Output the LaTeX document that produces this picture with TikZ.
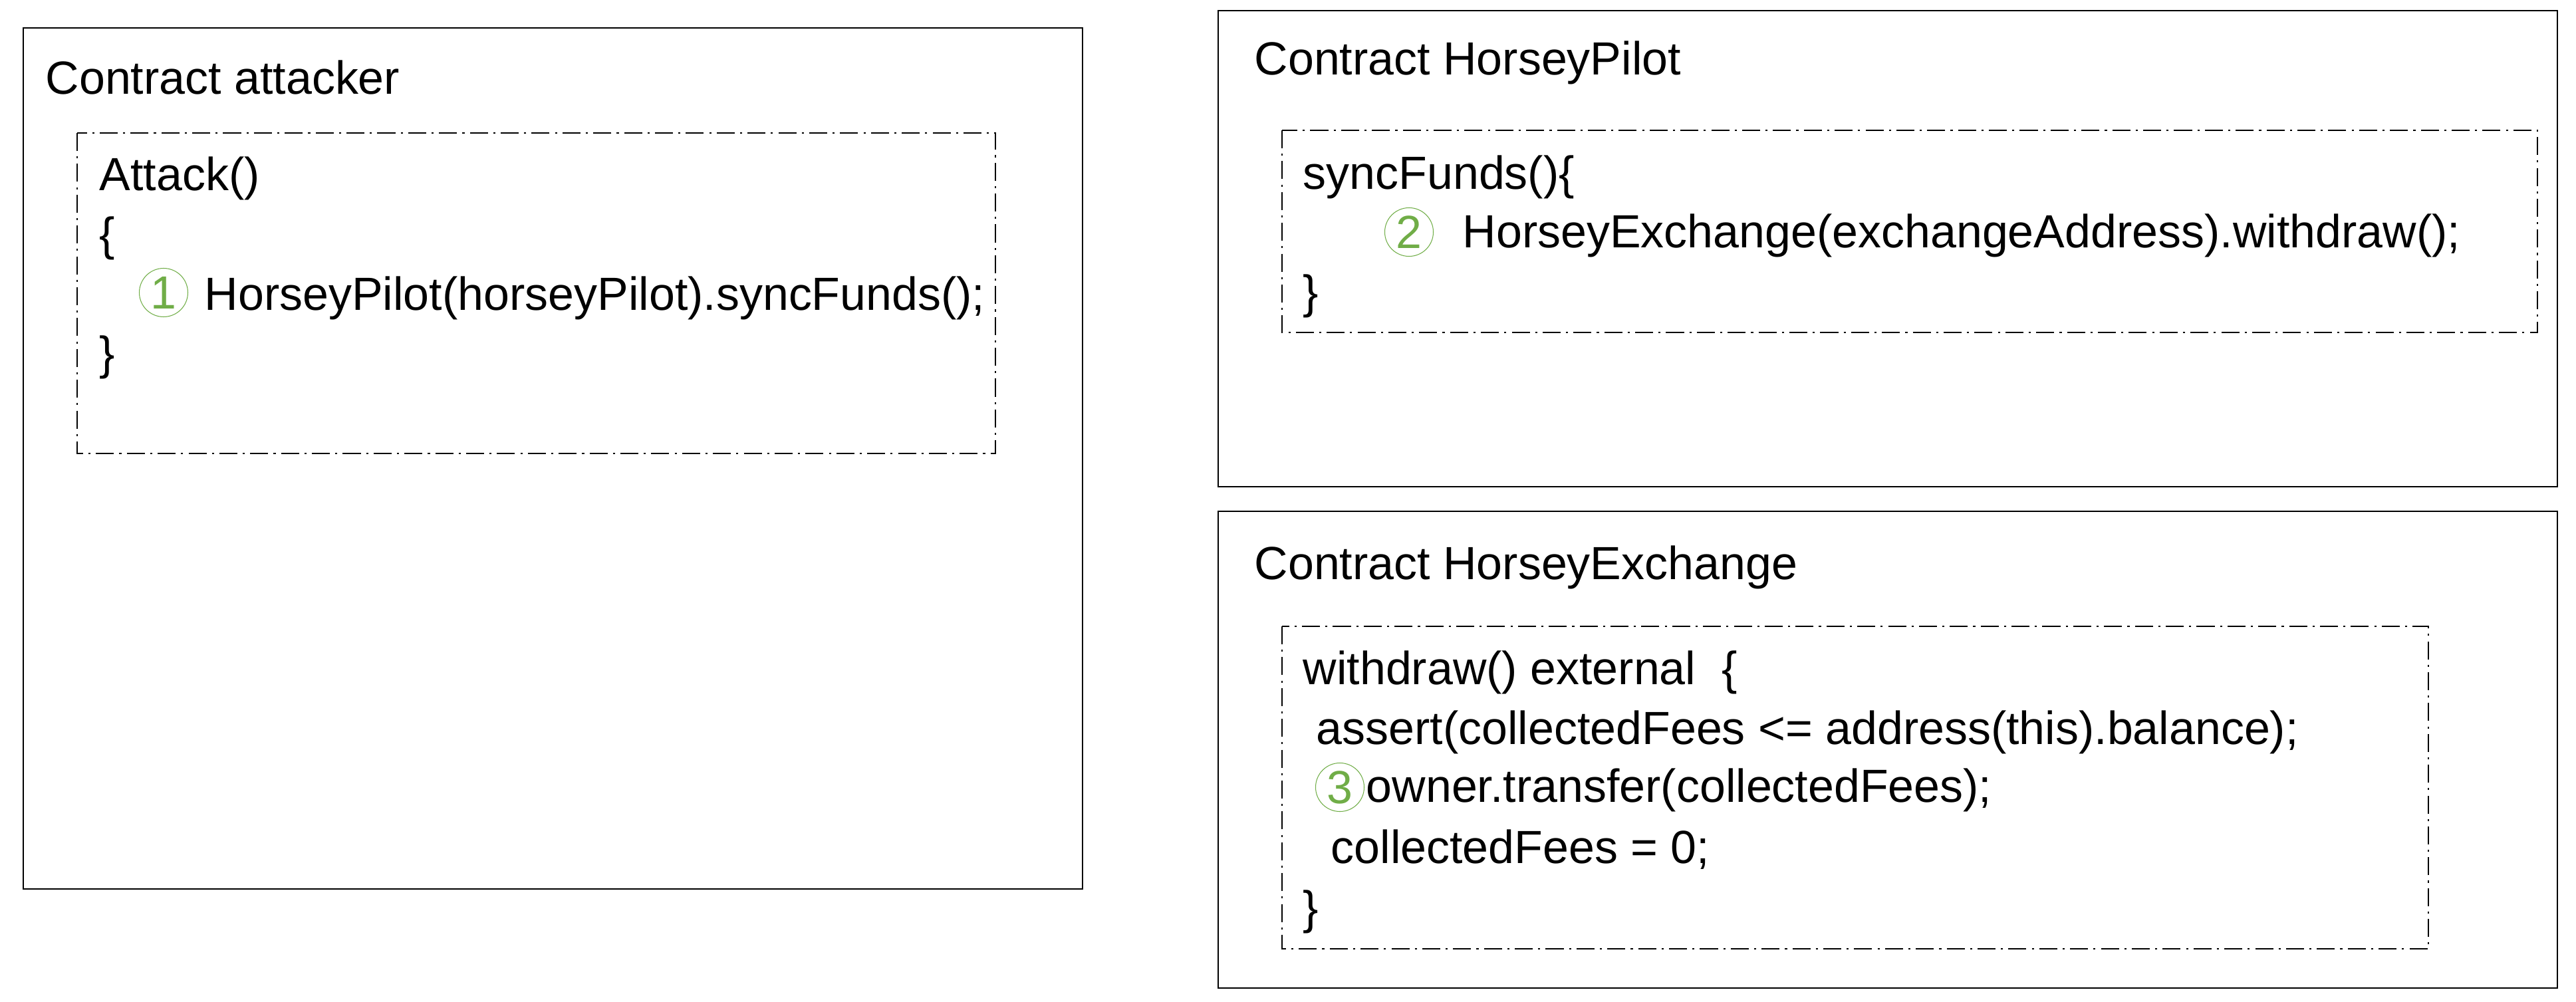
\documentclass[tikz,border=0pt]{standalone}
\usepackage{fontspec}
\setmainfont{Liberation Sans}
\usepackage{xcolor}
\usepackage{tikz}
\usetikzlibrary{positioning}

\definecolor{stepgreen}{HTML}{70AD47}

\tikzset{
  contract/.style={line width=0.8pt},
  codebox/.style={line width=0.5pt, dash pattern=on 7.7pt off 2.3pt on 0.9pt off 2.3pt},
  code/.style={anchor=base west, inner sep=0pt, font=\fontsize{19.9}{25}\selectfont},
  stepnum/.style={circle, draw=stepgreen, line width=0.3pt, text=stepgreen,
    minimum size=0.73cm, inner sep=0pt, font=\fontsize{19.9}{25}\selectfont}
}

\begin{document}
\begin{tikzpicture}
\useasboundingbox (0,0) rectangle (38.74,-15.07);

% contract attacker
\draw[contract] (0.35,-0.42) rectangle (16.28,-13.37);
\node[code] (atkname) at (0.68,-1.42) {Contract attacker};
\draw[codebox] (1.16,-2.00) rectangle (14.97,-6.82);
\node[code] (atk1) at (1.49,-2.87) {Attack()};
\node[code] (atk2) at (1.49,-3.76) {\{};
\node[stepnum] (s1) at (2.46,-4.40) {1};
\node[code] (atk3) at (3.07,-4.66) {HorseyPilot(horseyPilot).syncFunds();};
\node[code] (atk4) at (1.49,-5.55) {\}};

% contract HorseyPilot
\draw[contract] (18.32,-0.16) rectangle (38.46,-7.32);
\node[code] (pilotname) at (18.86,-1.13) {Contract HorseyPilot};
\draw[codebox] (19.28,-1.96) rectangle (38.16,-5.00);
\node[code] (pilot1) at (19.59,-2.84) {syncFunds()\{};
\node[stepnum] (s2) at (21.19,-3.49) {2};
\node[code] (pilot2) at (21.99,-3.73) {HorseyExchange(exchangeAddress).withdraw();};
\node[code] (pilot3) at (19.59,-4.63) {\}};

% contract HorseyExchange
\draw[contract] (18.32,-7.69) rectangle (38.46,-14.86);
\node[code] (exname) at (18.86,-8.71) {Contract HorseyExchange};
\draw[codebox] (19.28,-9.42) rectangle (36.52,-14.27);
\node[code] (ex1) at (19.59,-10.29) {withdraw() external\ \ \{};
\node[code] (ex2) at (19.79,-11.19) {assert(collectedFees <= address(this).balance);};
\node[stepnum] (s3) at (20.15,-11.84) {3};
\node[code] (ex3) at (20.54,-12.06) {owner.transfer(collectedFees);};
\node[code] (ex4) at (20.01,-12.98) {collectedFees = 0;};
\node[code] (ex5) at (19.59,-13.89) {\}};
\end{tikzpicture}
\end{document}
